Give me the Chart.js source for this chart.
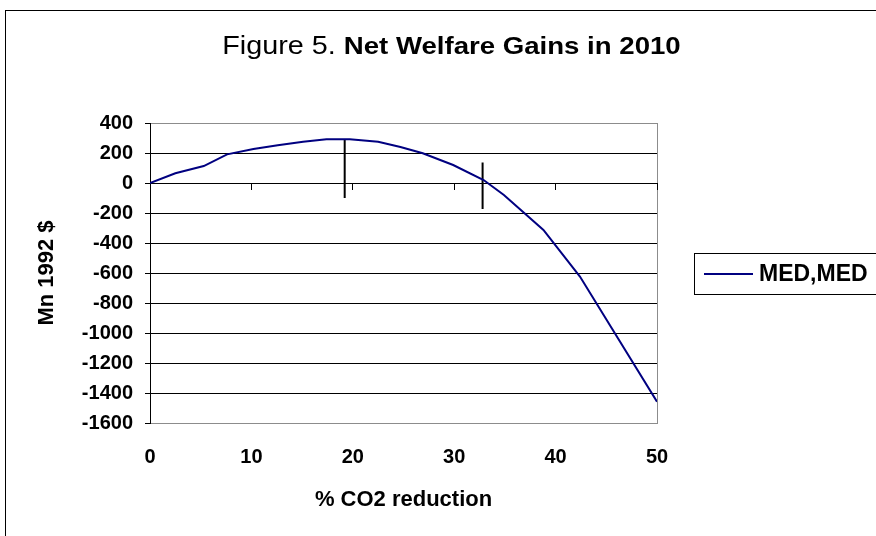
<!DOCTYPE html>
<html>
<head>
<meta charset="utf-8">
<script src="https://cdn.jsdelivr.net/npm/chart.js@4/dist/chart.umd.min.js"></script>
<style>
  html, body { margin: 0; padding: 0; background: #fff; }
  #wrap { width: 876px; height: 536px; }
</style>
</head>
<body>
<div id="wrap"><canvas id="grafic" width="876" height="536"></canvas></div>
<script>
// Dades llegides del gràfic
const REDUCCIO = [0, 2.5, 5.3, 7.6, 10.2, 12.6, 15.1, 17.4, 19.7, 22.5, 24.7, 26.9, 29.9, 32.9, 34.9, 38.8, 42.4, 50];
const GUANY    = [0, 65, 113, 191, 227, 251, 275, 291, 291, 275, 240, 198, 120, 20, -80, -313, -624, -1458];

// Marques verticals (x, extrem superior, extrem inferior)
const MARQUES_X   = [19.2, 32.8];
const MARQUES_TOP = [293, 137];
const MARQUES_BOT = [-100, -173];

const Y_TICKS = [-1600, -1400, -1200, -1000, -800, -600, -400, -200, 0, 200, 400];
const X_TICKS = [0, 10, 20, 30, 40, 50];

const SERIE = 'MED,MED';
const TITOL_PRE = 'Figure 5. ';
const TITOL = 'Net Welfare Gains in 2010';
const EIX_X = '% CO2 reduction';
const EIX_Y = 'Mn 1992 $';

const FONT = '"Liberation Sans", Arial, sans-serif';
const BLAU = '#000080';
const GRIS = '#8c8c8c';

// Marc exterior, títol i llegenda
const decoracio = {
    id: 'decoracio',
    beforeDraw(chart) {
        const ctx = chart.ctx;
        ctx.save();
        ctx.fillStyle = '#fff';
        ctx.fillRect(0, 0, chart.width, chart.height);
        ctx.strokeStyle = '#000';
        ctx.lineWidth = 1;
        ctx.strokeRect(5.5, 10.5, 1000, 1000);
        ctx.restore();
    },
    afterDraw(chart) {
        const ctx = chart.ctx;
        ctx.save();
        // títol
        const sx = 1.15;
        const reg = '25px ' + FONT, neg = 'bold 24px ' + FONT;
        ctx.font = reg; const w1 = ctx.measureText(TITOL_PRE).width;
        ctx.font = neg; const w2 = ctx.measureText(TITOL).width;
        ctx.translate(451.5 - (w1 + w2) * sx / 2, 47);
        ctx.scale(sx, 1);
        ctx.fillStyle = '#000';
        ctx.textBaseline = 'middle';
        ctx.font = reg; ctx.fillText(TITOL_PRE, 0, 0);
        ctx.font = neg; ctx.fillText(TITOL, w1, 0);
        ctx.restore();

        // llegenda
        ctx.save();
        ctx.strokeStyle = '#000';
        ctx.lineWidth = 1;
        ctx.strokeRect(694.5, 253.5, 300, 41);
        ctx.strokeStyle = BLAU;
        ctx.lineWidth = 2;
        ctx.beginPath();
        ctx.moveTo(704, 274);
        ctx.lineTo(753, 274);
        ctx.stroke();
        ctx.fillStyle = '#000';
        ctx.font = 'bold 23px ' + FONT;
        ctx.textBaseline = 'middle';
        ctx.fillText(chart.data.datasets[0].label, 759, 275);
        ctx.restore();
    }
};

const datasets = [{
    label: SERIE,
    data: REDUCCIO.map((x, i) => ({ x, y: GUANY[i] })),
    borderColor: BLAU,
    borderWidth: 2,
    pointRadius: 0,
    tension: 0,
    fill: false
}];
MARQUES_X.forEach((x, i) => {
    datasets.push({
        label: 'marca' + i,
        data: [{ x, y: MARQUES_TOP[i] }, { x, y: MARQUES_BOT[i] }],
        borderColor: '#000',
        borderWidth: 2,
        pointRadius: 0,
        fill: false
    });
});

const tickFont = { family: FONT, size: 20, weight: 'bold' };

new Chart(document.getElementById('grafic'), {
    type: 'line',
    data: { datasets },
    plugins: [decoracio],
    options: {
        responsive: false,
        animation: false,
        events: [],
        layout: { padding: { top: 123, right: 219, left: 0, bottom: 0 } },
        plugins: { legend: { display: false }, tooltip: { enabled: false } },
        scales: {
            x: {
                type: 'linear',
                position: 'bottom',
                min: 0, max: 50,
                afterBuildTicks: s => { s.ticks = X_TICKS.map(v => ({ value: v })); },
                afterFit: s => { s.height = 113; },
                grid: {
                    drawTicks: false,
                    color: c => (c.tick && c.tick.value === 50) ? GRIS : 'rgba(0,0,0,0)'
                },
                border: { color: GRIS, width: 1 },
                ticks: { color: '#000', padding: 22, maxRotation: 0, font: tickFont,
                         callback: v => String(v) },
                title: { display: true, text: EIX_X, color: '#000', padding: { top: 0, bottom: 23 },
                         font: { family: FONT, size: 22, weight: 'bold' } }
            },
            x0: {
                type: 'linear',
                position: { y: 0 },
                min: 0, max: 50,
                afterBuildTicks: s => { s.ticks = X_TICKS.map(v => ({ value: v })); },
                grid: { drawOnChartArea: false, drawTicks: true, tickLength: 6, color: '#000' },
                border: { color: '#000', width: 1 },
                ticks: { display: false }
            },
            y: {
                type: 'linear',
                min: -1600, max: 400,
                afterBuildTicks: s => { s.ticks = Y_TICKS.map(v => ({ value: v })); },
                afterFit: s => { s.width = 150; },
                grid: {
                    tickLength: 5,
                    tickColor: '#000',
                    color: c => (c.tick && (c.tick.value === 400 || c.tick.value === -1600)) ? GRIS : '#000'
                },
                border: { color: '#000', width: 1 },
                ticks: { color: '#000', padding: 12, font: tickFont, callback: v => String(v) },
                title: { display: true, text: EIX_Y, color: '#000', padding: { top: 34, bottom: 0 },
                         font: { family: FONT, size: 22, weight: 'bold' } }
            }
        }
    }
});
</script>
</body>
</html>
